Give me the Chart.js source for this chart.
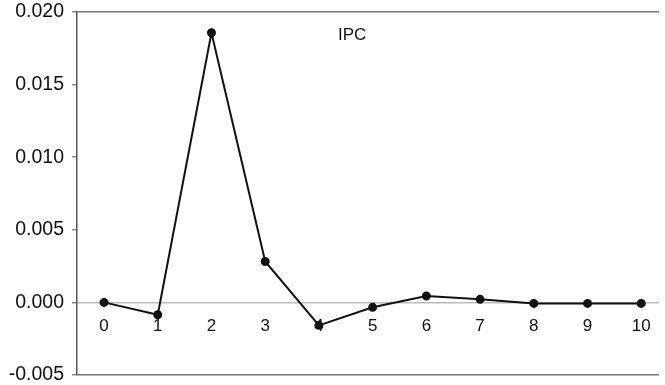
<!DOCTYPE html>
<html>
<head>
<meta charset="utf-8">
<title>IPC</title>
<script src="https://cdn.jsdelivr.net/npm/chart.js@4.4.1/dist/chart.umd.min.js"></script>
<style>
    html, body { margin: 0; padding: 0; background: #fff; }
    #wrap { width: 665px; height: 385px; position: relative; }
</style>
</head>
<body>
<div id="wrap"><canvas id="ipcChart"></canvas></div>
<script>
// Response of IPC over periods 0..10
const periods = ['0', '1', '2', '3', '4', '5', '6', '7', '8', '9', '10'];
const ipcValues = [0.0, -0.00085, 0.01857, 0.00282, -0.00158, -0.00034, 0.00044, 0.00021, -0.00007, -0.00007, -0.00007];
const yTicks = [-0.005, 0.000, 0.005, 0.010, 0.015, 0.020];
const seriesName = 'IPC';

const FONT = '"Liberation Sans", Arial, sans-serif';

// Series name written inside the plot area
const seriesLabel = {
    id: 'seriesLabel',
    afterDraw(chart) {
        const { ctx, scales } = chart;
        ctx.save();
        ctx.font = '17px ' + FONT;
        ctx.fillStyle = '#111';
        ctx.textAlign = 'center';
        ctx.textBaseline = 'middle';
        ctx.fillText(seriesName, scales.x.getPixelForValue(4.62), scales.y.getPixelForValue(0.0184));
        ctx.restore();
    }
};

// let layout.padding alone decide where the plot area sits
function noLabelPadding(scale) {
    scale.paddingTop = 0;
    scale.paddingBottom = 0;
    scale.paddingLeft = 0;
    scale.paddingRight = 0;
}

const ctx = document.getElementById('ipcChart').getContext('2d');

new Chart(ctx, {
    type: 'line',
    data: {
        datasets: [{
            label: seriesName,
            data: ipcValues.map((v, i) => ({ x: i, y: v })),
            borderColor: '#111',
            backgroundColor: '#111',
            borderWidth: 2,
            tension: 0,
            pointRadius: 3.5,
            pointBackgroundColor: '#111',
            pointBorderColor: '#111',
            clip: false
        }]
    },
    options: {
        responsive: true,
        maintainAspectRatio: false,
        animation: false,
        layout: {
            padding: { left: 0, right: 0, top: 12, bottom: 10 }
        },
        plugins: {
            legend: { display: false },
            tooltip: { enabled: false }
        },
        scales: {
            x: {
                type: 'linear',
                position: { y: 0 },
                min: -0.503,
                max: 10.33,
                afterBuildTicks: (scale) => {
                    scale.ticks = periods.map((p, i) => ({ value: i }));
                },
                afterFit: noLabelPadding,
                ticks: {
                    color: '#111',
                    font: { family: FONT, size: 17 },
                    padding: 14,
                    maxRotation: 0,
                    autoSkip: false,
                    callback: (value) => periods[value]
                },
                grid: { display: false, drawTicks: false },
                border: { display: false }
            },
            y: {
                min: -0.005,
                max: 0.020,
                afterBuildTicks: (scale) => {
                    scale.ticks = yTicks.map(v => ({ value: v }));
                },
                afterFit: (scale) => {
                    scale.width = 77;
                    noLabelPadding(scale);
                },
                ticks: {
                    color: '#111',
                    font: { family: FONT, size: 19.5 },
                    padding: 8,
                    callback: (value) => value.toFixed(3)
                },
                grid: {
                    tickLength: 5,
                    tickColor: '#888',
                    lineWidth: 1.5,
                    color: (c) => {
                        const v = c.tick ? c.tick.value : null;
                        if (v === 0.020 || v === -0.005) return '#777';
                        if (v === 0) return '#bbb';
                        return 'rgba(0,0,0,0)';
                    }
                },
                border: { display: true, color: '#555', width: 1.5 }
            }
        }
    },
    plugins: [seriesLabel]
});
</script>
</body>
</html>
